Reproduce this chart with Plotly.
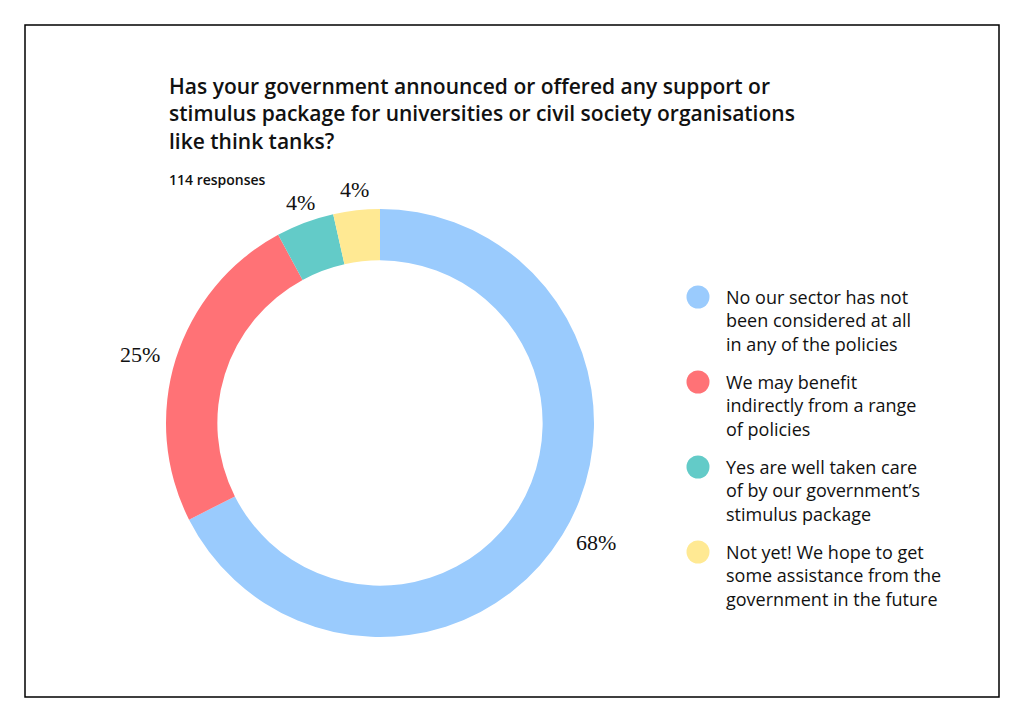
import math
import plotly.graph_objects as go

# ---- data ----
labels = [
    "No our sector has not<br>been considered at all<br>in any of the policies",
    "We may benefit<br>indirectly from a range<br>of policies",
    "Yes are well taken care<br>of by our government’s<br>stimulus package",
    "Not yet! We hope to get<br>some assistance from the<br>government in the future",
]
counts = [77, 28, 5, 4]
colors = ["#9ACBFD", "#FF7276", "#63CBC8", "#FFE993"]
title_text = ("Has your government announced or offered any support or<br>"
              "stimulus package for universities or civil society organisations<br>"
              "like think tanks?")
subtitle_text = "114 responses"

# ---- geometry (screen pixels; page has an 8px body margin) ----
OFF = 8
W, H = 1024 - 2 * OFF, 722 - 2 * OFF
cx, cy, R = 380, 423, 214
LABEL_R = 228


def px(x):
    return (x - OFF) / W


def py(y):
    return 1 - (y - OFF) / H


fig = go.Figure(go.Pie(
    labels=[l.replace("<br>", " ") for l in labels],
    values=counts,
    hole=0.76,
    sort=False,
    direction="clockwise",
    rotation=0,
    marker=dict(colors=colors, line=dict(width=0)),
    textinfo="none",
    hoverinfo="label+percent",
    domain=dict(x=[px(cx - R), px(cx + R)], y=[py(cy + R), py(cy - R)]),
    showlegend=False,
))

annotations = []
shapes = []

# percentage labels outside the ring
total = sum(counts)
start = 0.0
for v in counts:
    frac = v / total
    mid = (start + frac / 2) * 2 * math.pi
    start += frac
    s, c = math.sin(mid), math.cos(mid)
    lx, ly = cx + LABEL_R * s, cy - LABEL_R * c
    xa = "left" if s > 0.5 else ("right" if s < -0.5 else "center")
    ya = "bottom" if c > 0.7 else ("top" if c < -0.7 else "middle")
    if ya == "bottom":
        ly += 8
    annotations.append(dict(
        text=f"{round(frac * 100)}%", x=px(lx), y=py(ly), xref="paper", yref="paper",
        xanchor=xa, yanchor=ya, showarrow=False,
        font=dict(family="Liberation Serif", size=22, color="#111111")))

# custom legend with circle markers
LEG_X, LEG_Y0, LEG_DY, DOT_R = 698, 297, 85.0, 11.5
for i, (lab, col) in enumerate(zip(labels, colors)):
    yy = LEG_Y0 + i * LEG_DY
    shapes.append(dict(type="circle", xref="paper", yref="paper",
                       x0=px(LEG_X - DOT_R), x1=px(LEG_X + DOT_R),
                       y0=py(yy + DOT_R), y1=py(yy - DOT_R),
                       fillcolor=col, line=dict(width=0)))
    annotations.append(dict(
        text=lab, x=px(724), y=py(yy - 14), xref="paper", yref="paper",
        xanchor="left", yanchor="top", align="left", showarrow=False,
        font=dict(family="Open Sans", size=18, color="#111111", weight=500)))

# frame
shapes.append(dict(type="rect", xref="paper", yref="paper", x0=px(25), x1=px(999),
                   y0=py(697), y1=py(25), line=dict(color="black", width=1.5)))

annotations += [
    dict(text=title_text, x=px(167), y=py(70), xref="paper", yref="paper",
         xanchor="left", yanchor="top", align="left", showarrow=False,
         font=dict(family="Open Sans", size=21, color="#111111", weight=600)),
    dict(text=subtitle_text, x=px(167), y=py(168), xref="paper", yref="paper",
         xanchor="left", yanchor="top", showarrow=False,
         font=dict(family="Open Sans", size=14, color="#111111", weight=600)),
]

fig.update_layout(
    width=W, height=H,
    margin=dict(l=0, r=0, t=0, b=0),
    paper_bgcolor="white",
    showlegend=False,
    shapes=shapes,
    annotations=annotations,
)

fig.write_html("out.html")
